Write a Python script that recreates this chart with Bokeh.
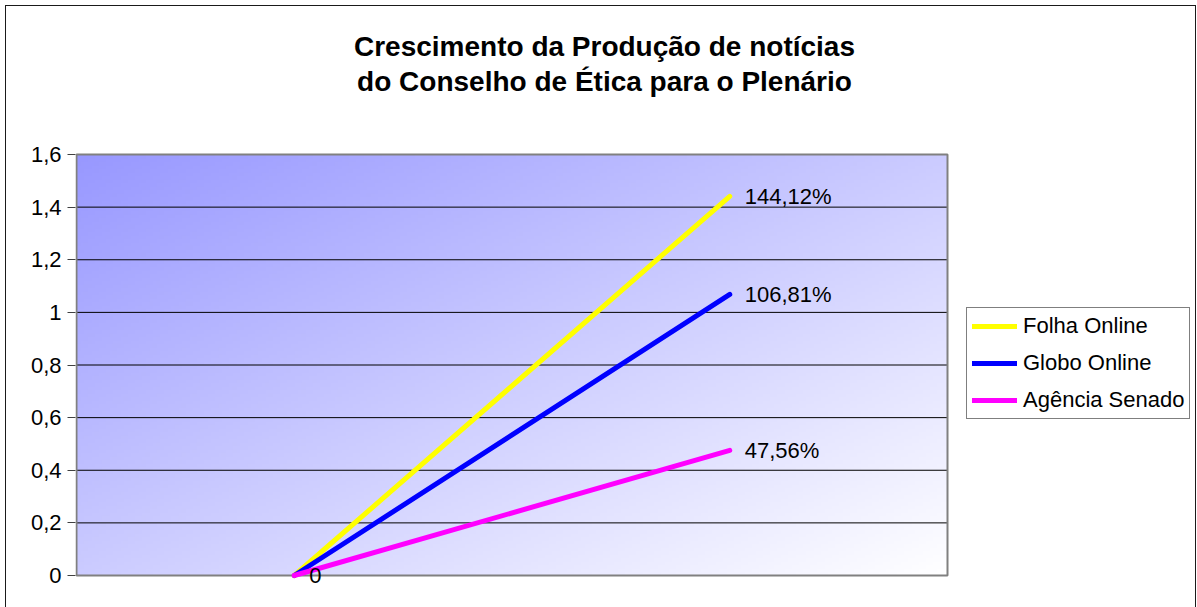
import numpy as np
from bokeh.plotting import figure
from bokeh.models import (Range1d, FixedTicker, Legend, LegendItem, Label,
                          ColumnDataSource)
from bokeh.embed import file_html
from bokeh.resources import INLINE
from bokeh.core.properties import value

# ---- data ----
title_lines = ["Crescimento da Produção de notícias",
               "do Conselho de Ética para o Plenário"]
categories = [1, 2]
series_names = ["Folha Online", "Globo Online", "Agência Senado"]
folha = [0, 1.4412]
globo = [0, 1.0681]
senado = [0, 0.4756]
series_values = [folha, globo, senado]
series_colors = ["#FFFF00", "#0000FF", "#FF00FF"]
y_ticks = [0, 0.2, 0.4, 0.6, 0.8, 1.0, 1.2, 1.4, 1.6]
y_tick_labels = ["0", "0,2", "0,4", "0,6", "0,8", "1", "1,2", "1,4", "1,6"]

FONT = "Liberation Sans"
W, H = 1189, 601          # canvas, placed at page (6, 6)
LEFT = 69                 # y-axis panel width

# plot area spans 871 x 421 px for x 0.5..2.5 and y 0..1.6
x_lo, x_hi = 0.5, 2.5
y_lo, y_hi = 0.0, 1.6
PX_X = (x_hi - x_lo) / 871
PX_Y = (y_hi - y_lo) / 421
AX0, AY0 = 76, 575        # page px of (x_lo, y_lo)


def dx(px):
    return x_lo + (px - AX0) * PX_X


def dy(py):
    return y_lo + (AY0 - py) * PX_Y


p = figure(width=W, height=H, output_backend="svg", toolbar_location=None,
           x_range=Range1d(dx(6 + LEFT), dx(6 + W)),
           y_range=Range1d(dy(6 + H), dy(6)),
           min_border_left=LEFT, min_border_right=0, min_border_top=0,
           min_border_bottom=0)
p.title.text = ""
p.background_fill_color = "white"
p.border_fill_color = "white"
p.outline_line_color = None
p.styles = {"margin-left": "6px", "margin-top": "6px",
            "outline": "1px solid #1a1a1a"}

# gradient background of plot area (periwinkle top-left -> white bottom-right)
N, M = 120, 240
rows = np.arange(N)[:, None]
cols = np.arange(M)[None, :]
v = 1.0 - rows / (N - 1)      # 0 at top, 1 at bottom
u = cols / (M - 1)
t = (u + v) / 2.0
c1 = np.array([152, 152, 255.0])
c2 = np.array([255, 255, 255.0])
img = np.zeros((N, M), dtype=np.uint32)
view = img.view(dtype=np.uint8).reshape((N, M, 4))
for k in range(3):
    view[:, :, k] = (c1[k] * (1 - t) + c2[k] * t).astype(np.uint8)
view[:, :, 3] = 255
p.image_rgba(image=[img], x=x_lo, y=y_lo, dw=x_hi - x_lo, dh=y_hi - y_lo,
             level="image")

# axes
p.xaxis.visible = False
p.xgrid.visible = False
p.ygrid.visible = False
p.yaxis.ticker = FixedTicker(ticks=y_ticks)
p.yaxis.major_label_overrides = {tk: lb for tk, lb in zip(y_ticks, y_tick_labels)}
p.yaxis.major_label_text_font = FONT
p.yaxis.major_label_text_font_size = "22px"
p.yaxis.major_label_text_color = "black"
p.yaxis.major_tick_in = 0
p.yaxis.major_tick_out = 8
p.yaxis.major_tick_line_color = "#404040"
p.yaxis.minor_tick_line_color = None
p.yaxis.axis_line_color = None
p.yaxis.major_label_standoff = 6

# horizontal gridlines limited to the plot area
p.segment(x0=[x_lo] * len(y_ticks), x1=[x_hi] * len(y_ticks),
          y0=y_ticks, y1=y_ticks, line_color="black", line_width=1)

# plot-area border (gray)
p.quad(left=[x_lo], right=[x_hi], bottom=[y_lo], top=[y_hi], fill_color=None,
       line_color="#808080", line_width=2)

# lines
items = []
for name, vals, col in zip(series_names, series_values, series_colors):
    r = p.line(categories, vals, line_color=col, line_width=5, line_cap="round")
    items.append(LegendItem(label=name, renderers=[r]))

# data labels
lab_x, lab_y, lab_t = [], [], []
for vals in series_values:
    for xc, yv in zip(categories, vals):
        txt = "0" if yv == 0 else f"{yv * 100:.2f}".replace(".", ",") + "%"
        if (xc, txt) in zip(lab_x, lab_t):
            continue
        lab_x.append(xc); lab_y.append(yv); lab_t.append(txt)
src = ColumnDataSource(dict(x=lab_x, y=lab_y, t=lab_t))
p.text(x="x", y="y", text="t", source=src, x_offset=15,
       text_font=value(FONT), text_font_size="22px", text_color="black",
       text_align="left", text_baseline="middle")

# legend (inside the wide frame, to the right of the plot area)
legend = Legend(items=items, location=(966 - (6 + LEFT), (6 + H) - 419),
                label_text_font=FONT, label_text_font_size="22px",
                label_text_color="black",
                glyph_width=45, glyph_height=26, label_height=26,
                label_standoff=6, spacing=11, padding=5, margin=0,
                border_line_color="black", border_line_width=1.3,
                background_fill_color="white", background_fill_alpha=1)
p.add_layout(legend, "center")

# title (two lines)
for txt, base in zip(title_lines, [46, 81]):
    p.add_layout(Label(x=dx(604), y=dy(base), text=txt, text_font=FONT,
                       text_font_size="28px", text_font_style="bold",
                       text_align="center", text_baseline="alphabetic",
                       text_color="black"))

open("out.html", "w").write(file_html(p, INLINE))
